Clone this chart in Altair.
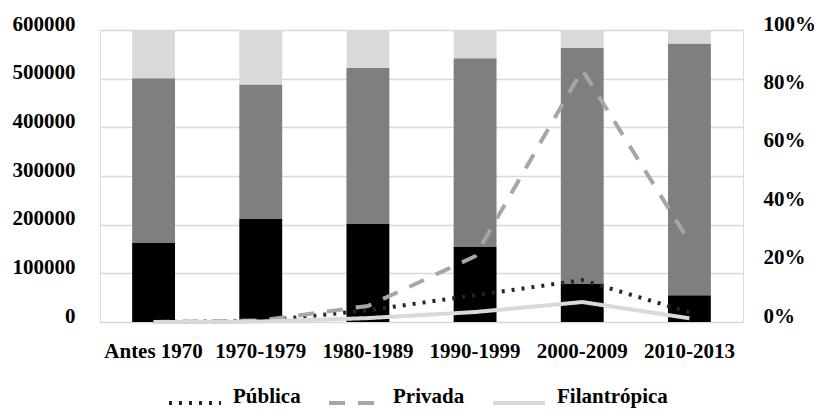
import altair as alt
import pandas as pd

cats = ["Antes 1970", "1970-1979", "1980-1989", "1990-1999", "2000-2009", "2010-2013"]

# stacked bar shares (%), bottom to top
bar_black = [27.2, 35.3, 33.6, 25.7, 13.2, 9.2]
bar_gray = [56.3, 46.0, 53.4, 64.6, 80.6, 86.2]
bar_light = [16.5, 18.7, 13.0, 9.7, 6.2, 4.6]
seg_names = ["A", "B", "C"]

# lines (left axis)
series = ["Pública", "Privada", "Filantrópica"]
publica = [0, 2000, 24000, 55000, 86000, 20000]
privada = [0, 3000, 33000, 135000, 518000, 165000]
filantropica = [0, 1000, 8000, 20500, 41000, 7600]

bar_rows = []
for i, c in enumerate(cats):
    for k, (s, arr) in enumerate(zip(seg_names, [bar_black, bar_gray, bar_light])):
        bar_rows.append({"cat": c, "seg": s, "ord": k, "val": arr[i] / 100.0})
bars_df = pd.DataFrame(bar_rows)

line_rows = []
for s, arr in zip(series, [publica, privada, filantropica]):
    for c, v in zip(cats, arr):
        line_rows.append({"cat": c, "serie": s, "v": v})
lines_df = pd.DataFrame(line_rows)

FONT = "Liberation Serif"

x_enc = alt.X("cat:N", sort=cats, title=None,
              scale=alt.Scale(paddingInner=0.6, paddingOuter=0.3),
              axis=alt.Axis(labelAngle=0, ticks=False, domain=False, labelPadding=18,
                            labelFont=FONT, labelFontSize=21, labelFontWeight="bold",
                            labelColor="#000000"))

bars = alt.Chart(bars_df).mark_bar().encode(
    x=x_enc,
    y=alt.Y("val:Q", stack="zero", title=None,
            scale=alt.Scale(domain=[0, 1], nice=False),
            axis=alt.Axis(orient="right", format="%", values=[0, 0.2, 0.4, 0.6, 0.8, 1.0],
                          grid=False, ticks=False, domain=False, labelPadding=20,
                          labelOffset=-6, labelFont=FONT, labelFontSize=21,
                          labelFontWeight="bold", labelColor="#000000")),
    color=alt.Color("seg:N", scale=alt.Scale(domain=seg_names,
                    range=["#000000", "#7f7f7f", "#d9d9d9"]), legend=None),
    order=alt.Order("ord:Q"),
)

lines = alt.Chart(lines_df).mark_line(strokeCap="butt", strokeWidth=4).encode(
    x=alt.X("cat:N", sort=cats),
    y=alt.Y("v:Q", title=None,
            scale=alt.Scale(domain=[0, 600000], nice=False),
            axis=alt.Axis(orient="left",
                          values=[0, 100000, 200000, 300000, 400000, 500000, 600000],
                          format="d", grid=True, gridColor="#d9d9d9", gridWidth=1.5,
                          ticks=False, domain=False, labelPadding=25, labelOffset=-6,
                          labelFont=FONT, labelFontSize=21, labelFontWeight="bold",
                          labelColor="#000000")),
    stroke=alt.Stroke("serie:N", sort=series,
                      scale=alt.Scale(domain=series, range=["#262626", "#a6a6a6", "#d9d9d9"]),
                      legend=alt.Legend(title=None, orient="none", direction="horizontal",
                                        legendX=67, legendY=345,
                                        symbolType="stroke", symbolSize=2704,
                                        symbolStrokeWidth=4, labelOffset=10, columnPadding=20,
                                        labelFont=FONT, labelFontSize=21, labelFontWeight="bold",
                                        labelColor="#000000", labelBaseline="alphabetic",
                                        labelLimit=300)),
    strokeDash=alt.StrokeDash("serie:N", sort=series,
                              scale=alt.Scale(domain=series, range=[[3, 7], [16, 13], [1, 0]]),
                              legend=None),
)

chart = alt.layer(bars, lines).resolve_scale(y="independent").properties(
    width=643, height=292,
    autosize=alt.AutoSizeParams(type="none"),
    padding={"left": 92, "top": 22, "right": 71, "bottom": 88},
).configure_view(stroke=None).configure(background="#ffffff")

chart.save("out.html", embed_options={"renderer": "svg", "actions": False})
